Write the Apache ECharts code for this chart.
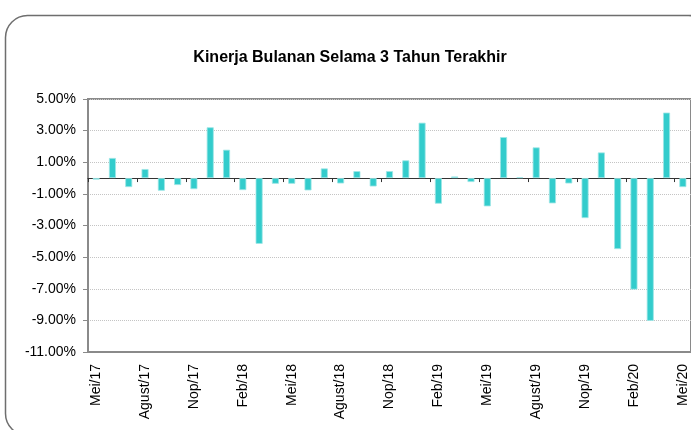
<!DOCTYPE html>
<html>
<head>
<meta charset="utf-8">
<script src="https://cdn.jsdelivr.net/npm/echarts@6/dist/echarts.min.js"></script>
<style>html,body{margin:0;padding:0;background:#fff;}#c{width:691px;height:430px;}</style>
</head>
<body>
<div id="c"></div>
<script>
const categories = ['Mei/17','Jun/17','Jul/17','Agust/17','Sep/17','Okt/17','Nop/17','Des/17','Jan/18','Feb/18','Mar/18','Apr/18','Mei/18','Jun/18','Jul/18','Agust/18','Sep/18','Okt/18','Nop/18','Des/18','Jan/19','Feb/19','Mar/19','Apr/19','Mei/19','Jun/19','Jul/19','Agust/19','Sep/19','Okt/19','Nop/19','Des/19','Jan/20','Feb/20','Mar/20','Apr/20','Mei/20'];
const returns = [-0.10,1.27,-0.57,0.57,-0.80,-0.44,-0.70,3.21,1.79,-0.76,-4.16,-0.36,-0.36,-0.78,0.61,-0.34,0.44,-0.53,0.44,1.12,3.50,-1.62,0.10,-0.25,-1.79,2.59,0.05,1.94,-1.60,-0.34,-2.53,1.62,-4.49,-7.05,-9.03,4.14,-0.57];
const yMin = -11, yMax = 5, yStep = 2;
const title = 'Kinerja Bulanan Selama 3 Tahun Terakhir';

const font = '"Liberation Sans", Arial, sans-serif';
const chart = echarts.init(document.getElementById('c'), null, {renderer:'canvas'});
chart.setOption({
  animation: false,
  backgroundColor: '#fff',
  title: {text: title, left: 345, top: 45, textAlign: 'center',
    textStyle: {fontSize: 16, fontWeight: 'bold', color: '#000', fontFamily: font}},
  graphic: [{type: 'rect', shape: {x: 5.5, y: 15.5, width: 705, height: 420, r: 22},
    style: {fill: 'none', stroke: '#6e6e6e', lineWidth: 1.5}, silent: true, z: 100}],
  grid: {left: 88, right: -4, top: 99, bottom: 78, show: true, borderColor: '#8a8a8a', borderWidth: 2, backgroundColor: 'transparent'},
  xAxis: [{
    type: 'category', data: categories, position: 'bottom',
    axisLine: {onZero: true, lineStyle: {color: '#333', width: 1.2}},
    axisTick: {show: true, interval: 2, length: 4, lineStyle: {color: '#333'}},
    axisLabel: {show: false}, splitLine: {show: false}
  }, {
    type: 'category', data: categories, position: 'bottom',
    axisLine: {show: true, onZero: false, lineStyle: {color: '#8a8a8a', width: 2}},
    axisTick: {show: false},
    axisLabel: {show: true, interval: 2, rotate: 90, margin: 12, fontSize: 14, color: '#000', fontFamily: font},
    splitLine: {show: false}
  }],
  yAxis: {
    type: 'value', min: yMin, max: yMax, interval: yStep,
    axisLine: {show: true, lineStyle: {color: '#8a8a8a', width: 2}},
    axisTick: {show: true, length: 5, lineStyle: {color: '#8a8a8a'}},
    axisLabel: {margin: 12, fontSize: 14, color: '#000', fontFamily: font,
      formatter: v => v.toFixed(2) + '%'},
    splitLine: {show: true, lineStyle: {color: '#c4c4c4', type: 'dotted', width: 1}}
  },
  series: [{
    type: 'bar', xAxisIndex: 0, data: returns, barWidth: 7,
    itemStyle: {color: '#33cccc', borderColor: '#9de6e6', borderWidth: 0.8}
  }]
});
</script>
</body>
</html>
